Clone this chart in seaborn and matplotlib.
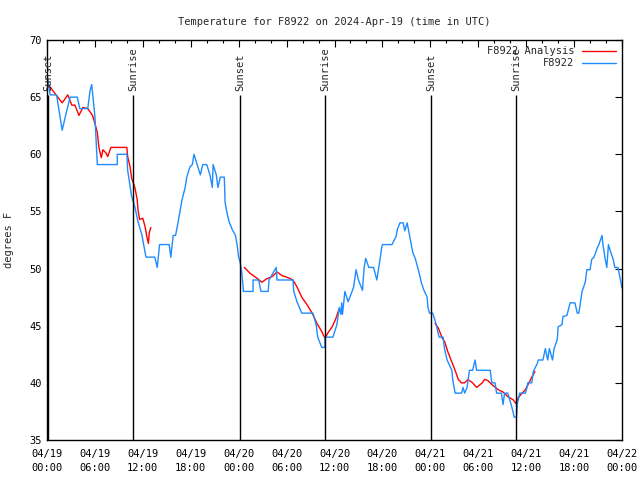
import numpy as np
import pandas as pd
import matplotlib
matplotlib.use("Agg")
import matplotlib.pyplot as plt
import seaborn as sns

# hours since 2024-04-19 00:00 UTC
obs_hours = [0.0, 0.4, 1.2, 1.9, 2.5, 2.9, 3.8, 4.1, 5.1, 5.4, 5.6, 6.0, 6.3, 8.8, 8.8, 10.0,
             10.1, 10.6, 11.0, 11.4, 11.9, 12.1, 12.4, 13.5, 13.8, 14.1, 15.3, 15.5, 15.8, 16.1,
             16.4, 16.9, 17.3, 17.5, 17.9, 18.2, 18.4, 18.8, 19.2, 19.5, 20.0, 20.4, 20.7, 20.8,
             21.2, 21.4, 21.7, 22.2, 22.3, 22.5, 22.8, 23.2, 23.6, 23.8, 24.0, 24.2, 24.4, 24.6,
             25.8, 25.8, 26.5, 26.8, 27.7, 27.8, 28.7, 28.8, 30.8, 30.9, 31.3, 31.9, 33.3, 33.7,
             33.9, 34.4, 34.8, 34.8, 35.8, 36.3, 36.6, 36.8, 36.9, 37.0, 37.3, 37.7, 38.2, 38.4,
             38.7, 39.0, 39.5, 39.7, 39.9, 40.3, 40.9, 41.3, 41.7, 41.9, 42.0, 43.2, 43.7, 43.9,
             44.2, 44.6, 44.8, 45.1, 45.5, 45.8, 46.1, 46.5, 46.9, 47.2, 47.6, 47.7, 47.9, 48.3,
             48.7, 49.1, 49.6, 49.8, 50.1, 50.7, 50.8, 51.1, 51.9, 52.1, 52.3, 52.6, 52.9, 53.3,
             53.6, 53.8, 55.5, 55.7, 56.1, 56.3, 56.9, 57.1, 57.3, 57.7, 58.2, 58.5, 58.8, 58.9,
             59.2, 59.9, 60.1, 60.2, 60.7, 60.9, 61.4, 61.5, 62.1, 62.4, 62.7, 62.9, 63.3, 63.5,
             63.9, 64.0, 64.5, 64.6, 65.1, 65.5, 66.1, 66.4, 66.6, 67.0, 67.4, 67.6, 68.0, 68.2,
             68.5, 68.9, 69.1, 69.5, 69.6, 69.9, 70.1, 70.3, 70.6, 70.9, 71.1, 71.5, 71.8, 72.0]
obs_temps = [67.0, 65.2, 65.2, 62.1, 63.9, 65.0, 65.0, 64.0, 64.0, 65.6, 66.1, 63.3, 59.1, 59.1, 60.0, 60.0,
             58.6, 56.3, 55.4, 54.1, 52.9, 52.1, 51.0, 51.0, 50.1, 52.1, 52.1, 51.0, 52.9, 52.9,
             54.0, 56.0, 57.1, 58.0, 58.9, 59.1, 60.0, 59.1, 58.2, 59.1, 59.1, 58.2, 57.1, 59.1,
             58.2, 57.1, 58.0, 58.0, 55.8, 55.0, 54.1, 53.4, 52.9, 52.1, 51.0, 50.5, 49.6, 48.0,
             48.0, 49.0, 49.0, 48.0, 48.0, 49.0, 50.1, 49.0, 49.0, 48.0, 47.1, 46.1, 46.1, 45.1,
             44.0, 43.1, 43.1, 44.0, 44.0, 45.1, 46.6, 46.0, 47.0, 46.0, 48.0, 47.1, 48.0, 48.4,
             49.9, 49.0, 48.1, 50.0, 50.9, 50.1, 50.1, 49.0, 50.8, 51.8, 52.1, 52.1, 52.8, 53.5,
             54.0, 54.0, 53.3, 54.0, 52.5, 51.4, 50.9, 49.9, 48.7, 48.1, 47.5, 46.6, 46.1, 46.1,
             45.2, 44.0, 44.0, 42.9, 42.0, 41.1, 40.3, 39.1, 39.1, 39.6, 39.1, 39.6, 41.1, 41.1,
             42.0, 41.1, 41.1, 40.0, 40.0, 39.1, 39.1, 38.1, 39.1, 39.1, 37.9, 37.0, 37.0, 38.2,
             39.1, 39.1, 39.6, 40.0, 40.0, 41.0, 41.7, 42.0, 42.0, 43.0, 42.0, 43.0, 42.0, 43.0,
             43.8, 44.9, 45.1, 45.8, 45.9, 47.0, 47.0, 46.1, 46.1, 48.0, 48.8, 49.9, 49.9, 50.8,
             51.0, 51.8, 52.1, 52.9, 52.2, 50.8, 50.1, 52.1, 51.4, 50.8, 50.1, 50.1, 49.0, 48.3]

# analysis series comes in three separate pieces
ana1_hours = [0.1, 0.8, 1.9, 2.6, 3.1, 3.5, 4.0, 4.5, 5.1, 5.7, 6.0, 6.3, 6.5, 6.8, 7.0, 7.4, 7.6,
              8.0, 10.0, 10.1, 10.4, 10.6, 11.0, 11.3, 11.4, 11.6, 12.0, 12.3, 12.5, 12.7, 12.8, 13.0]
ana1_temps = [66.2, 65.5, 64.5, 65.2, 64.3, 64.3, 63.4, 64.1, 64.0, 63.4, 62.7, 61.9, 60.6, 59.7, 60.4, 60.1, 59.8,
              60.6, 60.6, 59.8, 58.9, 57.9, 57.1, 56.0, 55.1, 54.3, 54.4, 53.6, 52.8, 52.2, 53.1, 53.6]
ana2_hours = [24.7, 25.0, 25.4, 25.8, 26.4, 26.9, 27.5, 28.2, 28.8, 29.4, 30.2, 30.8, 31.3, 31.9,
              32.6, 33.2, 33.8, 34.4, 34.8, 35.2, 35.7, 36.1, 36.3, 36.6]
ana2_temps = [50.1, 49.9, 49.6, 49.4, 49.1, 48.8, 49.1, 49.3, 49.7, 49.4, 49.2, 49.0, 48.4, 47.5,
              46.8, 46.1, 45.2, 44.5, 43.9, 44.4, 44.9, 45.5, 45.9, 46.5]
ana3_hours = [48.6, 49.0, 49.5, 49.8, 50.2, 50.7, 51.1, 51.5, 51.9, 52.3, 52.7, 53.3, 53.8, 54.5,
              54.8, 55.2, 55.8, 56.5, 57.1, 57.7, 58.4, 58.7, 59.0, 59.5, 59.9, 60.2, 60.7, 61.1]
ana3_temps = [45.2, 44.8, 43.9, 43.6, 42.7, 41.8, 41.1, 40.3, 40.0, 40.0, 40.3, 40.0, 39.6, 40.0,
              40.3, 40.2, 39.8, 39.4, 39.2, 38.8, 38.5, 38.2, 38.7, 39.1, 39.4, 39.8, 40.5, 41.0]

sun_hours = [0.1, 10.8, 24.2, 34.8, 48.1, 58.7]
sun_labels = ["Sunset", "Sunrise", "Sunset", "Sunrise", "Sunset", "Sunrise"]

tick_hours = [0, 6, 12, 18, 24, 30, 36, 42, 48, 54, 60, 66, 72]
tick_labels = ["04/19\n00:00", "04/19\n06:00", "04/19\n12:00", "04/19\n18:00",
               "04/20\n00:00", "04/20\n06:00", "04/20\n12:00", "04/20\n18:00",
               "04/21\n00:00", "04/21\n06:00", "04/21\n12:00", "04/21\n18:00",
               "04/22\n00:00"]

obs = pd.DataFrame({"hour": obs_hours, "temp": obs_temps})
ana = pd.DataFrame({
    "hour": ana1_hours + ana2_hours + ana3_hours,
    "temp": ana1_temps + ana2_temps + ana3_temps,
    "seg": [1] * len(ana1_hours) + [2] * len(ana2_hours) + [3] * len(ana3_hours),
})

sns.set_style("white")
plt.rcParams["font.family"] = ["DejaVu Sans Mono"]
plt.rcParams["font.size"] = 7.5

fig = plt.figure(figsize=(6.4, 4.8), dpi=100)
ax = fig.add_axes([47 / 640, 40 / 480, 575 / 640, 400 / 480])

sns.lineplot(data=ana, x="hour", y="temp", units="seg", estimator=None, sort=False,
             color="#ff0000", linewidth=1, ax=ax)
sns.lineplot(data=obs, x="hour", y="temp", estimator=None, sort=False,
             color="#1e8cff", linewidth=1, ax=ax)

for h, lab in zip(sun_hours, sun_labels):
    ax.vlines(h, 35, 65.2, color="black", linewidth=1)
    ax.text(h, 65.5, lab, rotation=90, ha="center", va="bottom", fontsize=7.5)

ax.set_xlim(0, 72)
ax.set_ylim(35, 70)
ax.set_xticks(tick_hours)
ax.set_xticklabels(tick_labels, linespacing=1.5)
ax.set_xticks(np.arange(0, 73, 2), minor=True)
ax.set_yticks(np.arange(35, 71, 5))
ax.tick_params(which="both", direction="in", top=True, right=True, colors="black", labelsize=7.5)
ax.tick_params(which="major", length=5, width=0.8)
ax.tick_params(which="minor", length=2.5, width=0.8)
ax.tick_params(axis="x", which="major", pad=6.5)
for s in ax.spines.values():
    s.set_color("black")
    s.set_linewidth(1)

ax.set_xlabel("")
ax.set_ylabel("degrees F", fontsize=7.5)
ax.yaxis.set_label_coords(-0.057, 0.5)
ax.set_title("Temperature for F8922 on 2024-Apr-19 (time in UTC)", fontsize=7.5, pad=11)

handles = [plt.Line2D([], [], color="#ff0000", lw=1), plt.Line2D([], [], color="#1e8cff", lw=1)]
ax.legend(handles, ["F8922 Analysis", "F8922"], loc="upper right", frameon=False,
          markerfirst=False, handlelength=3.2, fontsize=7.5, borderaxespad=0.2,
          labelspacing=0.2, handletextpad=0.8)

fig.savefig("out.png", dpi=100)
